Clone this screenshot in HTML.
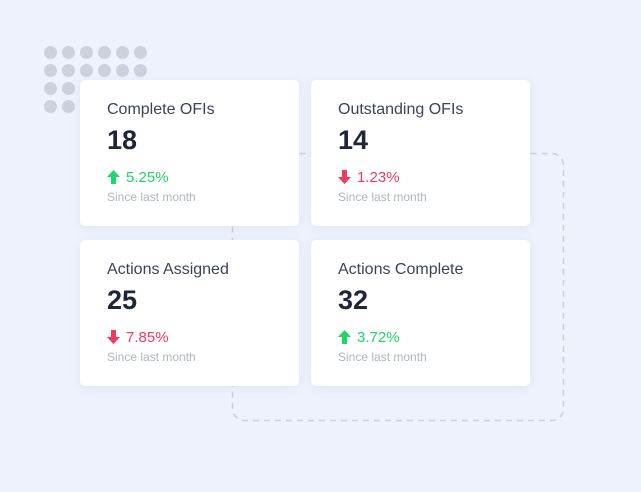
<!DOCTYPE html>
<html><head><meta charset="utf-8"><style>
body{margin:0;width:641px;height:492px;background:#edf2fc;position:relative;overflow:hidden;font-family:"Liberation Sans",sans-serif}
.dot{position:absolute;width:13px;height:13px;border-radius:50%;background:#ccd1de}
.card{position:absolute;width:219px;height:146px;background:#fff;border-radius:5px;box-shadow:0 2px 10px rgba(150,170,210,0.15)}
.t{position:absolute;left:27px;top:21px;font-size:16px;color:#3b4354}
.n{position:absolute;left:27px;top:45px;font-size:27px;font-weight:bold;color:#1e2638}
.p{position:absolute;left:27px;top:89px;font-size:15px}
.s{position:absolute;left:27px;top:110px;font-size:12px;color:#aeb4c0}
.up{color:#1ed66c}.dn{color:#f23a5c}
svg.a{vertical-align:-2px;margin-right:6px}
</style></head><body>
<svg style="position:absolute;left:0;top:0" width="641" height="492"><rect x="232.5" y="153.5" width="331" height="267" rx="12" fill="none" stroke="#c9cfdb" stroke-width="1.5" stroke-dasharray="6,5"/></svg>
<div id="dots"></div>
<script>
var d=document.getElementById('dots'),h='';
for(var r=0;r<4;r++){var c=r<2?6:2;for(var i=0;i<c;i++)h+='<div class="dot" style="left:'+(44+i*18)+'px;top:'+(46+r*18)+'px"></div>';}
d.innerHTML=h;
</script>
<div class="card" style="left:80px;top:80px"><div class="t">Complete OFIs</div><div class="n">18</div><div class="p up"><svg class="a" width="13" height="14"><path d="M6.5 0L13 7H9V14H4V7H0Z" fill="#1ed66c"/></svg>5.25%</div><div class="s">Since last month</div></div>
<div class="card" style="left:311px;top:80px"><div class="t">Outstanding OFIs</div><div class="n">14</div><div class="p dn"><svg class="a" width="13" height="14"><path d="M6.5 14L13 7H9V0H4V7H0Z" fill="#f23a5c"/></svg>1.23%</div><div class="s">Since last month</div></div>
<div class="card" style="left:80px;top:240px"><div class="t">Actions Assigned</div><div class="n">25</div><div class="p dn"><svg class="a" width="13" height="14"><path d="M6.5 14L13 7H9V0H4V7H0Z" fill="#f23a5c"/></svg>7.85%</div><div class="s">Since last month</div></div>
<div class="card" style="left:311px;top:240px"><div class="t">Actions Complete</div><div class="n">32</div><div class="p up"><svg class="a" width="13" height="14"><path d="M6.5 0L13 7H9V14H4V7H0Z" fill="#1ed66c"/></svg>3.72%</div><div class="s">Since last month</div></div>
</body></html>
